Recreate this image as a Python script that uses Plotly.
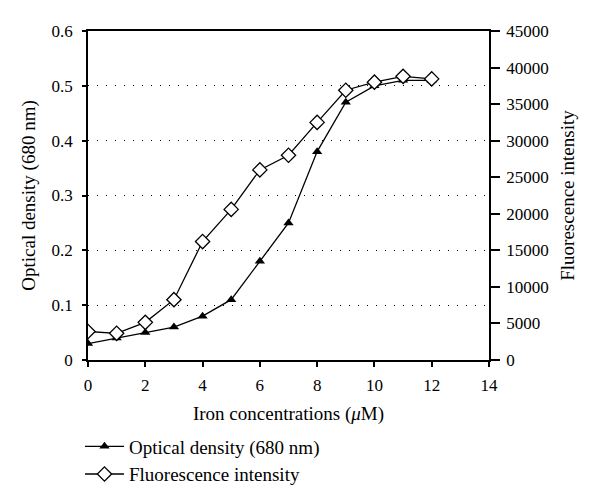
import plotly.graph_objects as go

iron = [0, 1, 2, 3, 4, 5, 6, 7, 8, 9, 10, 11, 12]
optical_density = [0.03, 0.04, 0.05, 0.06, 0.08, 0.11, 0.18, 0.25, 0.38, 0.47, 0.50, 0.51, 0.51]
fluorescence = [3900, 3650, 5150, 8250, 16200, 20600, 26000, 28000, 32500, 36900, 38000, 38800, 38450]
od_ticks = [0, 0.1, 0.2, 0.3, 0.4, 0.5, 0.6]
od_ticktext = ["0", "0.1", "0.2", "0.3", "0.4", "0.5", "0.6"]

FONT = "Liberation Serif"
FS = 17   # tick labels
TS = 19   # titles and legend

fig = go.Figure()
fig.add_trace(go.Scatter(
    x=iron, y=optical_density, name="Optical density (680 nm)",
    mode="lines+markers",
    line=dict(color="black", width=1.3),
    marker=dict(symbol="triangle-up", size=9, color="black"),
))
fig.add_trace(go.Scatter(
    x=iron, y=fluorescence, name="Fluorescence intensity", yaxis="y2",
    mode="lines+markers",
    line=dict(color="black", width=1.3),
    marker=dict(symbol="diamond", size=11, color="white", line=dict(color="black", width=1.3)),
))

axis_common = dict(
    showline=True, linecolor="black", linewidth=1.5,
    ticks="outside", tickcolor="black", tickwidth=1.5,
    tickfont=dict(family=FONT, size=FS, color="black"),
    automargin=False,
)

fig.update_layout(
    width=600, height=503,
    margin=dict(l=80, r=119, t=23, b=151, autoexpand=False),
    paper_bgcolor="white", plot_bgcolor="white",
    font=dict(family=FONT, size=TS, color="black"),
    showlegend=True,
    legend=dict(
        x=-0.02, y=-0.205, xanchor="left", yanchor="top",
        font=dict(family=FONT, size=TS, color="black"),
        bgcolor="rgba(0,0,0,0)", tracegroupgap=0, itemwidth=39,
    ),
    xaxis=dict(
        range=[0, 14], dtick=2, tick0=0, showgrid=False, zeroline=False,
        mirror=True, ticklen=5, ticklabelstandoff=4,
        title=dict(text="Iron concentrations (<i>μ</i>M)", font=dict(family=FONT, size=TS), standoff=13),
        **axis_common,
    ),
    yaxis=dict(
        range=[0, 0.6], zeroline=False,
        tickvals=od_ticks, ticktext=od_ticktext,
        showgrid=True, gridcolor="black", gridwidth=1, griddash="1px,8px",
        ticklen=4, ticklabelstandoff=6,
        title=dict(text="Optical density (680 nm)", font=dict(family=FONT, size=TS), standoff=11),
        **axis_common,
    ),
    yaxis2=dict(
        range=[0, 45000], dtick=5000, tick0=0, overlaying="y", side="right",
        showgrid=False, zeroline=False, ticklen=9, tickformat="d", ticklabelstandoff=3,
        title=dict(text="Fluorescence intensity", font=dict(family=FONT, size=TS), standoff=13),
        **axis_common,
    ),
)

fig.write_html("out.html")
